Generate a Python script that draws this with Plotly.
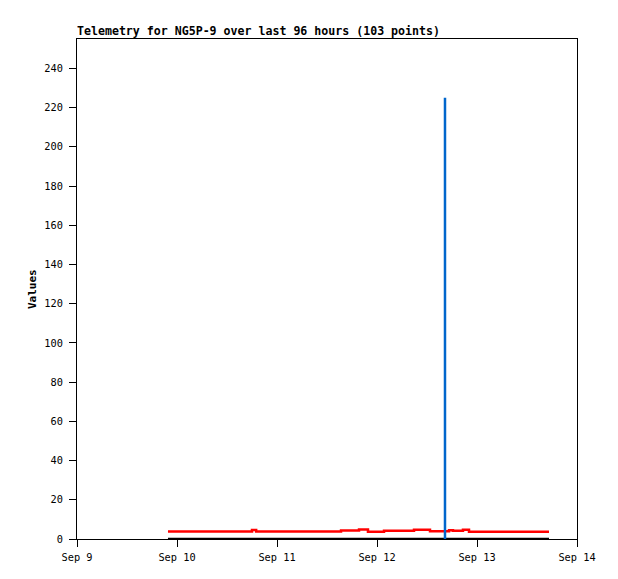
import plotly.graph_objects as go

# Red series (step values)
red_times = ["2023-09-09 21:50", "2023-09-10 18:00", "2023-09-10 19:00", "2023-09-11 15:22",
             "2023-09-11 19:41", "2023-09-11 21:50", "2023-09-12 01:41", "2023-09-12 08:53",
             "2023-09-12 12:43", "2023-09-12 17:17", "2023-09-12 18:14", "2023-09-12 20:38",
             "2023-09-12 22:05", "2023-09-13 17:17"]
red_values = [3.8, 4.6, 3.8, 4.3, 4.9, 3.7, 4.2, 4.7, 3.9, 4.5, 4.2, 4.7, 3.7, 3.7]

# Black series (zero)
black_times = ["2023-09-09 21:50", "2023-09-13 17:17"]
black_values = [0, 0]

# Blue spike
blue_times = ["2023-09-12 16:19", "2023-09-12 16:19"]
blue_values = [0, 225]

x_ticks = ["2023-09-09", "2023-09-10", "2023-09-11", "2023-09-12", "2023-09-13", "2023-09-14"]
x_labels = ["Sep 9", "Sep 10", "Sep 11", "Sep 12", "Sep 13", "Sep 14"]
y_ticks = [0, 20, 40, 60, 80, 100, 120, 140, 160, 180, 200, 220, 240]

mono = "DejaVu Sans Mono"

fig = go.Figure()
fig.add_trace(go.Scatter(x=black_times, y=black_values, mode="lines",
                         line=dict(color="#000000", width=2.5), showlegend=False))
fig.add_trace(go.Scatter(x=red_times, y=red_values, mode="lines", line_shape="hv",
                         line=dict(color="#ff0000", width=2.5), showlegend=False))
fig.add_trace(go.Scatter(x=blue_times, y=blue_values, mode="lines",
                         line=dict(color="#0066cc", width=2.5), showlegend=False))

fig.update_layout(
    width=618, height=579,
    margin=dict(l=69, r=49, t=31, b=48),
    paper_bgcolor="white", plot_bgcolor="white",
    font=dict(family=mono, size=10, color="black"),
    title=dict(text="<b>Telemetry for NG5P-9 over last 96 hours (103 points)</b>",
               font=dict(family=mono, size=11.6, color="black"),
               x=69/618, xanchor="left", xref="container",
               y=1 - 23/579, yanchor="middle", yref="container"),
    xaxis=dict(range=["2023-09-09", "2023-09-14"], tickvals=x_ticks, ticktext=x_labels,
               showgrid=False, zeroline=False, showline=True, linecolor="black", linewidth=1,
               mirror=True, ticks="outside", ticklen=7, tickcolor="black",
               ticklabelstandoff=2,
               tickfont=dict(family=mono, size=10.3)),
    yaxis=dict(range=[0, 255], tickvals=y_ticks, showgrid=False, zeroline=False,
               showline=True, linecolor="black", linewidth=1, mirror=True,
               ticks="outside", ticklen=7, tickcolor="black",
               ticklabelstandoff=4,
               tickfont=dict(family=mono, size=10.3)),
    annotations=[dict(text="<b>Values</b>", textangle=-90, xref="paper", yref="paper",
                      x=(32 - 77) / 500, y=0.5, xanchor="center", yanchor="middle",
                      showarrow=False, font=dict(family=mono, size=11, color="black"))],
)

fig.write_html("out.html")
